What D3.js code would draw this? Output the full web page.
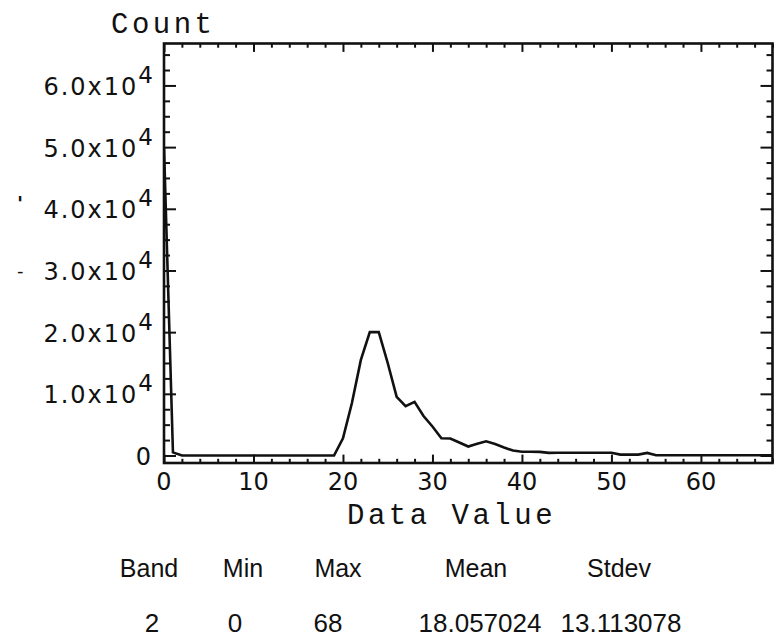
<!DOCTYPE html>
<html>
<head>
<meta charset="utf-8">
<script src="https://cdn.jsdelivr.net/npm/d3@7"></script>
<style>
  html, body { margin: 0; padding: 0; background: #fff; }
  svg { display: block; }
</style>
</head>
<body>
<script>
// Histogram of band 2: count of pixels per data value (integer bins 0..68)
const dataValues = d3.range(0, 69);
const counts = [
  50000, 500, 0, 0, 0, 0, 0, 0, 0, 0,          // 0-9
  0, 0, 0, 0, 0, 0, 0, 0, 0, 0,                // 10-19
  2800, 8500, 15500, 20000, 20000, 15000, 9500, 8000, 8700, 6400, // 20-29
  4700, 2800, 2750, 2100, 1450, 1900, 2300, 1850, 1300, 800,      // 30-39
  620, 620, 580, 420, 450, 450, 450, 450, 450, 450,               // 40-49
  450, 150, 150, 150, 420, 50, 50, 50, 50, 50,                    // 50-59
  50, 50, 50, 50, 50, 50, 50, 50, 50                              // 60-68
];

const xMajorTicks = [0, 10, 20, 30, 40, 50, 60];
const xMinorTicks = d3.range(2, 69, 2).filter(d => d % 10 !== 0);
const yMajorTicks = [0, 10000, 20000, 30000, 40000, 50000, 60000];
const yMinorTicks = d3.range(2500, 66800, 2500).filter(d => d % 10000 !== 0);
const yTickMantissas = ["0", "1.0x10", "2.0x10", "3.0x10", "4.0x10", "5.0x10", "6.0x10"];
const yTickExponent = "4";

const statHeaders = ["Band", "Min", "Max", "Mean", "Stdev"];
const statValues = ["2", "0", "68", "18.057024", "13.113078"];

const W = 780, H = 637;
const plot = { left: 164, right: 772.5, top: 43.5, bottom: 463 };
const ink = "#111";

const svg = d3.select("body").append("svg")
  .attr("width", W).attr("height", H)
  .style("background", "#fff");

const x = d3.scaleLinear().domain([0, 68]).range([plot.left, plot.right]);
const y = d3.scaleLinear().domain([-1216, 66800]).range([plot.bottom, plot.top]);

svg.append("defs").append("clipPath").attr("id", "plot-clip")
  .append("rect")
  .attr("x", plot.left).attr("y", plot.top)
  .attr("width", plot.right - plot.left).attr("height", plot.bottom - plot.top);

// histogram curve
const line = d3.line()
  .x((d, i) => x(dataValues[i]))
  .y(d => y(d));

svg.append("path")
  .datum(counts)
  .attr("clip-path", "url(#plot-clip)")
  .attr("d", line)
  .attr("fill", "none")
  .attr("stroke", ink)
  .attr("stroke-width", 2.6)
  .attr("stroke-linejoin", "miter");

// inward-pointing ticks on all four sides
const hLen = 8.4, vLen = 12;
function styleAxis(g) {
  g.select(".domain").remove();
  g.selectAll(".tick line").attr("stroke", ink).attr("stroke-width", 2);
  g.selectAll(".tick text").remove();
}
svg.append("g").attr("transform", `translate(0,${plot.bottom})`)
  .call(d3.axisBottom(x).tickValues(xMajorTicks).tickSize(-hLen)).call(styleAxis);
svg.append("g").attr("transform", `translate(0,${plot.bottom})`)
  .call(d3.axisBottom(x).tickValues(xMinorTicks).tickSize(-hLen / 2)).call(styleAxis);
svg.append("g").attr("transform", `translate(0,${plot.top})`)
  .call(d3.axisTop(x).tickValues(xMajorTicks).tickSize(-hLen)).call(styleAxis);
svg.append("g").attr("transform", `translate(0,${plot.top})`)
  .call(d3.axisTop(x).tickValues(xMinorTicks).tickSize(-hLen / 2)).call(styleAxis);
svg.append("g").attr("transform", `translate(${plot.left},0)`)
  .call(d3.axisLeft(y).tickValues(yMajorTicks).tickSize(-vLen)).call(styleAxis);
svg.append("g").attr("transform", `translate(${plot.left},0)`)
  .call(d3.axisLeft(y).tickValues(yMinorTicks).tickSize(-vLen / 2)).call(styleAxis);
svg.append("g").attr("transform", `translate(${plot.right},0)`)
  .call(d3.axisRight(y).tickValues(yMajorTicks).tickSize(-vLen)).call(styleAxis);
svg.append("g").attr("transform", `translate(${plot.right},0)`)
  .call(d3.axisRight(y).tickValues(yMinorTicks).tickSize(-vLen / 2)).call(styleAxis);

// plot frame
svg.append("rect")
  .attr("x", plot.left).attr("y", plot.top)
  .attr("width", plot.right - plot.left).attr("height", plot.bottom - plot.top)
  .attr("fill", "none").attr("stroke", ink).attr("stroke-width", 2.6);

// x tick labels
svg.append("g").selectAll("text").data(xMajorTicks).join("text")
  .attr("x", d => x(d)).attr("y", 490)
  .attr("text-anchor", "middle")
  .attr("font-family", "DejaVu Sans").attr("font-size", 24)
  .attr("fill", ink)
  .text(d => d);

// y tick labels with superscript exponent
const yl = svg.append("g").selectAll("text").data(yMajorTicks).join("text")
  .attr("x", 153).attr("y", d => y(d) + 9.5)
  .attr("text-anchor", "end")
  .attr("font-family", "DejaVu Sans").attr("font-size", 24)
  .attr("letter-spacing", 2)
  .attr("fill", ink);
yl.each(function(d, i) {
  const t = d3.select(this);
  t.append("tspan").text(yTickMantissas[i]);
  if (d !== 0) {
    t.append("tspan").attr("dy", -12).attr("font-size", 23).attr("letter-spacing", 0).text(yTickExponent);
  }
});

// axis titles
svg.append("text")
  .attr("x", 111).attr("y", 33)
  .attr("font-family", "Liberation Mono").attr("font-size", 29)
  .attr("letter-spacing", 3.5).attr("fill", ink)
  .text("Count");
svg.append("text")
  .attr("x", 347).attr("y", 524)
  .attr("font-family", "Liberation Mono").attr("font-size", 29)
  .attr("letter-spacing", 3.5).attr("fill", ink)
  .text("Data Value");

// stray marks in the left margin
svg.append("text").attr("x", 17).attr("y", 210)
  .attr("font-family", "DejaVu Sans").attr("font-size", 20).attr("font-weight", "bold")
  .attr("fill", ink).text("'");
svg.append("text").attr("x", 17).attr("y", 277)
  .attr("font-family", "DejaVu Sans").attr("font-size", 18)
  .attr("fill", ink).text("-");

// statistics table
const headerX = [149, 243, 338, 476, 619];
const valueX = [152, 235, 328, 480, 621];
svg.append("g").selectAll("text").data(statHeaders).join("text")
  .attr("x", (d, i) => headerX[i]).attr("y", 577)
  .attr("text-anchor", "middle")
  .attr("font-family", "Liberation Sans").attr("font-size", 25)
  .attr("fill", ink).text(d => d);
svg.append("g").selectAll("text").data(statValues).join("text")
  .attr("x", (d, i) => valueX[i]).attr("y", 632)
  .attr("text-anchor", "middle")
  .attr("font-family", "Liberation Sans").attr("font-size", 26)
  .attr("fill", ink).text(d => d);
</script>
</body>
</html>
